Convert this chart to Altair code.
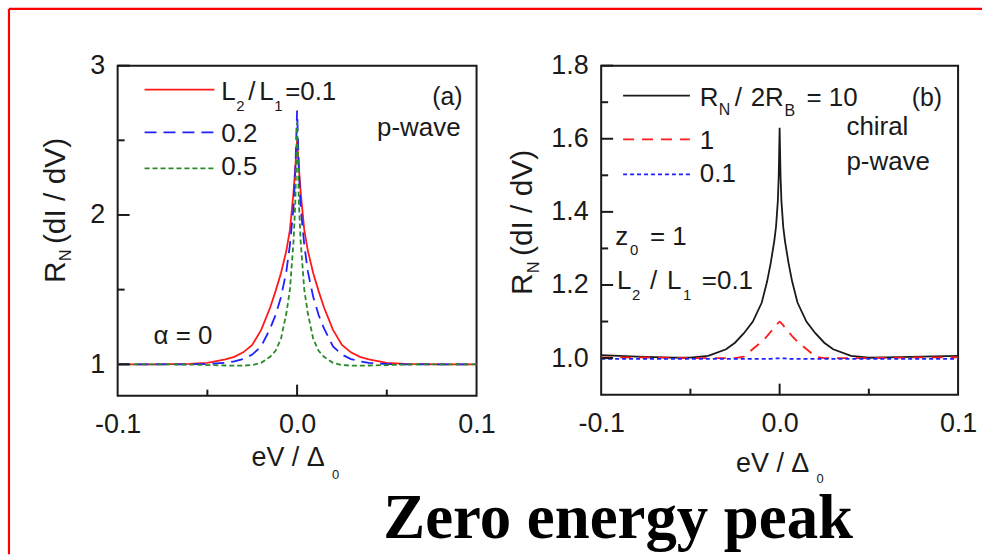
import altair as alt
import pandas as pd

SANS = "Liberation Sans, Arial, Helvetica, sans-serif"
SERIF = "Liberation Serif, Times New Roman, serif"
INK = "#1a1a1a"
RED = "#ff1a1a"
BLUE = "#1f1fff"
GREEN = "#2a8a2a"

# ---------------- data: panel (a) ----------------
xa = [-0.1, -0.08, -0.06, -0.05, -0.04, -0.035, -0.03, -0.025, -0.02, -0.015, -0.012,
      -0.009, -0.006, -0.004, -0.002, -0.001, 0.0, 0.001, 0.002, 0.004, 0.006, 0.009,
      0.012, 0.015, 0.02, 0.025, 0.03, 0.035, 0.04, 0.05, 0.06, 0.08, 0.1]
a_l01 = [1.0, 1.0, 1.003, 1.01, 1.033, 1.05, 1.08, 1.13, 1.23, 1.38, 1.49,
         1.61, 1.76, 1.90, 2.15, 2.32, 2.50, 2.32, 2.15, 1.90, 1.76, 1.61,
         1.49, 1.38, 1.23, 1.13, 1.08, 1.05, 1.033, 1.01, 1.003, 1.0, 1.0]
a_l02 = [1.0, 1.0, 1.0, 1.002, 1.01, 1.02, 1.035, 1.065, 1.12, 1.24, 1.33,
         1.45, 1.62, 1.80, 2.05, 2.30, 2.70, 2.30, 2.05, 1.80, 1.62, 1.45,
         1.33, 1.24, 1.12, 1.065, 1.035, 1.02, 1.01, 1.002, 1.0, 1.0, 1.0]
a_l05 = [1.0, 1.0, 0.998, 0.995, 0.992, 0.991, 0.991, 0.995, 1.01, 1.05, 1.09,
         1.17, 1.34, 1.50, 1.82, 2.08, 2.62, 2.08, 1.82, 1.50, 1.34, 1.17,
         1.09, 1.05, 1.01, 0.995, 0.991, 0.991, 0.992, 0.995, 0.998, 1.0, 1.0]

# ---------------- data: panel (b) ----------------
xb = [-0.1, -0.08, -0.06, -0.05, -0.04, -0.03, -0.025, -0.02, -0.015, -0.01, -0.007,
      -0.005, -0.003, -0.002, -0.001, -0.0005, 0.0, 0.0005, 0.001, 0.002, 0.003, 0.005,
      0.007, 0.01, 0.015, 0.02, 0.025, 0.03, 0.04, 0.05, 0.06, 0.08, 0.1]
b_r10 = [1.008, 1.004, 1.001, 1.001, 1.006, 1.024, 1.042, 1.068, 1.10, 1.152, 1.21,
         1.26, 1.32, 1.36, 1.43, 1.50, 1.63, 1.50, 1.43, 1.36, 1.32, 1.26,
         1.21, 1.152, 1.10, 1.068, 1.042, 1.024, 1.006, 1.001, 1.002, 1.004, 1.006]
b_r1 = [1.002, 1.002, 1.001, 1.0, 1.0, 1.0, 1.0, 1.004, 1.025, 1.045, 1.06,
        1.072, 1.083, 1.09, 1.095, 1.098, 1.10, 1.098, 1.095, 1.09, 1.083, 1.072,
        1.06, 1.045, 1.025, 1.004, 1.0, 1.0, 1.0, 1.0, 1.001, 1.002, 1.002]
b_r01 = [0.998, 0.998, 0.998, 0.998, 0.998, 0.998, 0.998, 0.998, 0.998, 0.998, 0.998,
         0.998, 0.999, 0.999, 0.999, 0.999, 0.999, 0.999, 0.999, 0.999, 0.999, 0.998,
         0.998, 0.998, 0.998, 0.998, 0.998, 0.998, 0.998, 0.998, 0.998, 0.998, 0.998]

# tick values
x_labels = [-0.1, 0.0, 0.1]
x_major = [0.0]
x_minor = [-0.05, 0.05]
ya_major = [1, 2, 3]
ya_minor = [1.5, 2.5]
yb_major = [1.0, 1.2, 1.4, 1.6, 1.8]
yb_minor = [1.1, 1.3, 1.5, 1.7]

W_A, H_A = 360, 331
W_B, H_B = 358, 330

ONE = pd.DataFrame({"k": [0]})


def txt(s, x, y, size=26, align="left", baseline="alphabetic", angle=0,
        font=SANS, weight="normal", color=INK):
    kw = dict(text=s, align=align, baseline=baseline, fontSize=size, font=font,
              fontWeight=weight, color=color)
    if angle:
        kw["angle"] = angle
    return alt.Chart(ONE).mark_text(**kw).encode(x=alt.value(x), y=alt.value(y))


def sample(x1, x2, y, color, dash=None, width=1.8):
    kw = dict(color=color, strokeWidth=width)
    if dash:
        kw["strokeDash"] = dash
    return alt.Chart(ONE).mark_rule(**kw).encode(
        x=alt.value(x1), x2=alt.value(x2), y=alt.value(y))


def x_axis():
    return alt.Axis(values=x_labels, format=".1f", title=None, ticks=False,
                    tickSize=0, domain=False, grid=False, labelFontSize=27,
                    labelFont=SANS, labelColor=INK, labelPadding=16,
                    labelFlush=False, labelOverlap=False,
                    labelExpr="datum.value < 0 ? '-' + format(-datum.value, '.1f') : format(datum.value, '.1f')")


def y_axis(vals, fmt):
    return alt.Axis(values=vals, format=fmt, title=None, ticks=False, tickSize=0,
                    domain=False, grid=False, labelFontSize=27, labelFont=SANS,
                    labelColor=INK, labelPadding=13, labelOverlap=False)


def series(xs, ys, xscale, yscale, xax, yax, color, dash=None):
    kw = dict(color=color, strokeWidth=1.8, interpolate="linear")
    if dash:
        kw["strokeDash"] = dash
    df = pd.DataFrame({"x": xs, "y": ys})
    return alt.Chart(df).mark_line(**kw).encode(
        x=alt.X("x:Q", scale=xscale, axis=xax),
        y=alt.Y("y:Q", scale=yscale, axis=yax),
        order=alt.Order("x:Q"),
    )


def yticks(vals, length, ys, yax):
    return alt.Chart(pd.DataFrame({"y": vals})).mark_rule(color=INK, strokeWidth=2).encode(
        y=alt.Y("y:Q", scale=ys, axis=yax), x=alt.value(0), x2=alt.value(length))


def xticks(vals, length, xs, xax, h):
    return alt.Chart(pd.DataFrame({"x": vals})).mark_rule(color=INK, strokeWidth=2).encode(
        x=alt.X("x:Q", scale=xs, axis=xax), y=alt.value(h), y2=alt.value(h - length))


# ---------------- panel (a) ----------------
xs_a = alt.Scale(domain=[-0.1, 0.1], nice=False, zero=False)
ys_a = alt.Scale(domain=[0.79, 3.0], nice=False, zero=False)
xax_a = x_axis()
yax_a = y_axis(ya_major, "d")

layers_a = [
    series(xa, a_l01, xs_a, ys_a, xax_a, yax_a, RED),
    series(xa, a_l02, xs_a, ys_a, xax_a, yax_a, BLUE, dash=[12, 7]),
    series(xa, a_l05, xs_a, ys_a, xax_a, yax_a, GREEN, dash=[5, 3]),
    yticks(ya_major, 12, ys_a, yax_a),
    yticks(ya_minor, 7, ys_a, yax_a),
    xticks(x_major, 11, xs_a, xax_a, H_A),
    xticks(x_minor, 6, xs_a, xax_a, H_A),
    # legend
    sample(27, 97, 24, RED),
    sample(27, 97, 67, BLUE, [12, 7]),
    sample(27, 97, 103, GREEN, [5, 3]),
    txt("L", 104, 34), txt("2", 119, 45, size=15), txt("/", 131, 34),
    txt("L", 142, 34), txt("1", 157, 45, size=15), txt("=0.1", 168, 34),
    txt("0.2", 104, 77),
    txt("0.5", 104, 110),
    # annotations
    txt("(a)", 346, 39, size=25, align="right"),
    txt("p-wave", 344, 71, size=26, align="right"),
    txt("\u03b1 = 0", 36, 279, size=26),
    # y title (rotated)
    txt("R", -53, 218, size=30, angle=270),
    txt("N", -47, 196, size=16, angle=270),
    txt("(dI / dV)", -53, 179, size=30, angle=270),
    # x title
    txt("eV / \u0394", 171, 402, size=27, align="center"),
    txt("0", 215, 415, size=13),
    # big caption
    txt("Zero energy peak", 502, 474, size=63, align="center", font=SERIF, weight="bold",
        color="#000000"),
    # red frame (top and left edges)
    alt.Chart(ONE).mark_rule(color="#ff0000", strokeWidth=2.2).encode(
        x=alt.value(-109), x2=alt.value(867), y=alt.value(-57)),
    alt.Chart(ONE).mark_rule(color="#ff0000", strokeWidth=2.2).encode(
        x=alt.value(-109), y=alt.value(-57), y2=alt.value(490)),
]
panel_a = alt.layer(*layers_a).properties(width=W_A, height=H_A)

# ---------------- panel (b) ----------------
xs_b = alt.Scale(domain=[-0.1, 0.1], nice=False, zero=False)
ys_b = alt.Scale(domain=[0.9, 1.8], nice=False, zero=False)
xax_b = x_axis()
yax_b = y_axis(yb_major, ".1f")

layers_b = [
    series(xb, b_r10, xs_b, ys_b, xax_b, yax_b, INK),
    series(xb, b_r1, xs_b, ys_b, xax_b, yax_b, RED, dash=[11, 8]),
    series(xb, b_r01, xs_b, ys_b, xax_b, yax_b, BLUE, dash=[4, 3]),
    yticks(yb_major, 12, ys_b, yax_b),
    yticks(yb_minor, 7, ys_b, yax_b),
    xticks(x_major, 11, xs_b, xax_b, H_B),
    xticks(x_minor, 6, xs_b, xax_b, H_B),
    # legend
    sample(22, 89, 30, INK),
    sample(22, 89, 74, RED, [11, 8]),
    sample(22, 89, 109, BLUE, [4, 3]),
    txt("R", 99, 40), txt("N", 118, 50, size=16), txt("/", 134, 40),
    txt("2R", 150, 40), txt("B", 184, 51, size=16), txt("= 10", 206, 40),
    txt("1", 99, 84),
    txt("0.1", 99, 117),
    # annotations
    txt("(b)", 342, 40, size=25, align="right"),
    txt("chiral", 246, 70, size=26),
    txt("p-wave", 246, 105, size=26),
    txt("z", 14, 180), txt("0", 29, 190, size=15), txt("= 1", 49, 180),
    txt("L", 16, 224), txt("2", 31, 235, size=15), txt("/", 49, 224),
    txt("L", 66, 224), txt("1", 82, 235, size=15), txt("=0.1", 101, 224),
    # y title (rotated)
    txt("R", -69, 230, size=30, angle=270),
    txt("N", -62, 208, size=16, angle=270),
    txt("(dI / dV)", -69, 191, size=30, angle=270),
    # x title
    txt("eV / \u0394", 172, 408, size=27, align="center"),
    txt("0", 216, 419, size=13),
]
panel_b = alt.layer(*layers_b).properties(width=W_B, height=H_B)

chart = (
    alt.hconcat(panel_a, panel_b, spacing=125, bounds="flush")
    .properties(padding={"left": 6, "top": 5, "right": 0, "bottom": 0},
                background="white")
    .configure_view(stroke=INK, strokeWidth=2)
)

chart.save("out.html", embed_options={"renderer": "svg", "actions": False})
